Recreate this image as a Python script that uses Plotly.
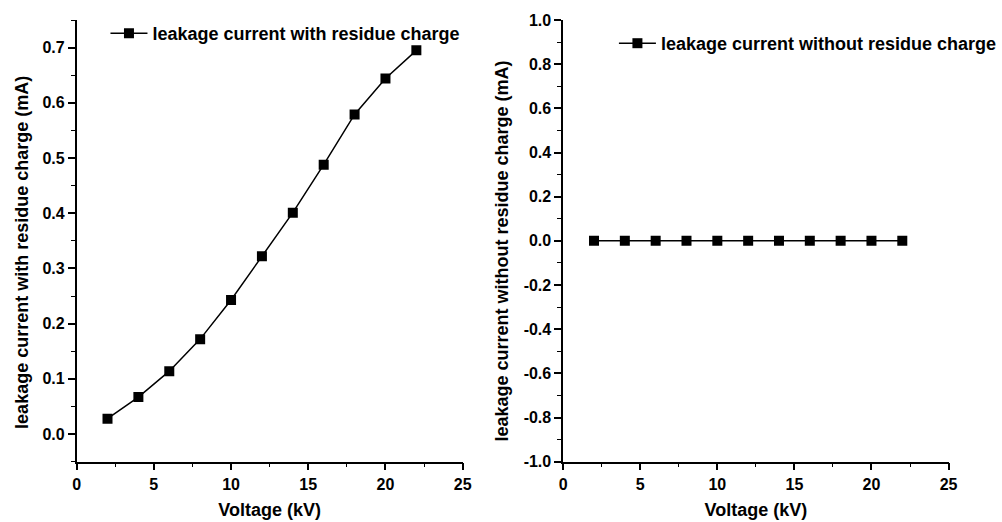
import plotly.graph_objects as go

voltage = [2, 4, 6, 8, 10, 12, 14, 16, 18, 20, 22]
with_residue = [0.028, 0.067, 0.114, 0.172, 0.243, 0.322, 0.401, 0.488, 0.579, 0.644, 0.695]
without_residue = [0, 0, 0, 0, 0, 0, 0, 0, 0, 0, 0]

left_yticks = [0.0, 0.1, 0.2, 0.3, 0.4, 0.5, 0.6, 0.7]
right_yticks = [-1.0, -0.8, -0.6, -0.4, -0.2, 0.0, 0.2, 0.4, 0.6, 0.8, 1.0]
xticks = [0, 5, 10, 15, 20, 25]

W, H = 1002, 522
FONT = "Liberation Sans"

fig = go.Figure()
fig.add_trace(go.Scatter(
    x=voltage, y=with_residue, mode="lines+markers",
    name="<b>leakage current with residue charge</b>",
    line=dict(color="black", width=1.5),
    marker=dict(symbol="square", size=10, color="black"),
    xaxis="x", yaxis="y", legend="legend",
))
fig.add_trace(go.Scatter(
    x=voltage, y=without_residue, mode="lines+markers",
    name="<b>leakage current without residue charge</b>",
    line=dict(color="black", width=1.5),
    marker=dict(symbol="square", size=10, color="black"),
    xaxis="x2", yaxis="y2", legend="legend2",
))

def fmt(v):
    return f"{v:.1f}"

axis_common = dict(
    showline=True, linecolor="black", linewidth=1.5,
    ticks="outside", ticklen=7, tickwidth=1.5, tickcolor="black",
    showgrid=False, zeroline=False,
    tickfont=dict(family=FONT, size=16, color="black"),
    automargin=False,
)
minor_x = dict(ticks="outside", ticklen=4, tickwidth=1.2, tickcolor="black", dtick=2.5, showgrid=False)
title_font = dict(family=FONT, size=18, color="black")

fig.update_layout(
    width=W, height=H,
    margin=dict(l=0, r=0, t=0, b=0),
    paper_bgcolor="white", plot_bgcolor="white",
    font=dict(family=FONT, color="black"),
    xaxis=dict(domain=[77 / W, 465 / W], range=[0, 25], anchor="y",
               tickvals=xticks, ticktext=[f"<b>{v}</b>" for v in xticks],
               minor=minor_x,
               title=dict(text="<b>Voltage (kV)</b>", font=title_font, standoff=12),
               **axis_common),
    yaxis=dict(domain=[1 - 461.7 / H, 1 - 20 / H], range=[-0.05, 0.75], anchor="x",
               tickvals=left_yticks, ticktext=[f"<b>{fmt(v)}</b>" for v in left_yticks],
               minor=dict(ticks="outside", ticklen=4, tickwidth=1.2, tickcolor="black", dtick=0.05, tick0=0, showgrid=False),
               **axis_common),
    xaxis2=dict(domain=[566 / W, 953.3 / W], range=[0, 25], anchor="y2",
                tickvals=xticks, ticktext=[f"<b>{v}</b>" for v in xticks],
                minor=minor_x,
                title=dict(text="<b>Voltage (kV)</b>", font=title_font, standoff=12),
                **axis_common),
    yaxis2=dict(domain=[1 - 461.7 / H, 1 - 20 / H], range=[-1, 1], anchor="x2",
                tickvals=right_yticks, ticktext=[f"<b>{fmt(v)}</b>" for v in right_yticks],
                minor=dict(ticks="outside", ticklen=4, tickwidth=1.2, tickcolor="black", dtick=0.1, tick0=0, showgrid=False),
                **axis_common),
    legend=dict(x=106 / W, y=1 - 15 / H, xanchor="left", yanchor="top",
                bgcolor="rgba(0,0,0,0)", font=dict(family=FONT, size=18, color="black"),
                itemclick=False, tracegroupgap=0, itemwidth=37),
    legend2=dict(x=617 / W, y=1 - 25 / H, xanchor="left", yanchor="top",
                 bgcolor="rgba(0,0,0,0)", font=dict(family=FONT, size=18, color="black"),
                 itemclick=False, tracegroupgap=0, itemwidth=37),
    showlegend=True,
    annotations=[
        dict(text="<b>leakage current with residue charge (mA)</b>", textangle=-90,
             x=22 / W, y=1 - 252 / H, xref="paper", yref="paper",
             xanchor="center", yanchor="middle", showarrow=False, font=title_font),
        dict(text="<b>leakage current without residue charge (mA)</b>", textangle=-90,
             x=505 / W, y=1 - 251 / H, xref="paper", yref="paper",
             xanchor="center", yanchor="middle", showarrow=False, font=title_font),
    ],
)

fig.write_html("out.html")
